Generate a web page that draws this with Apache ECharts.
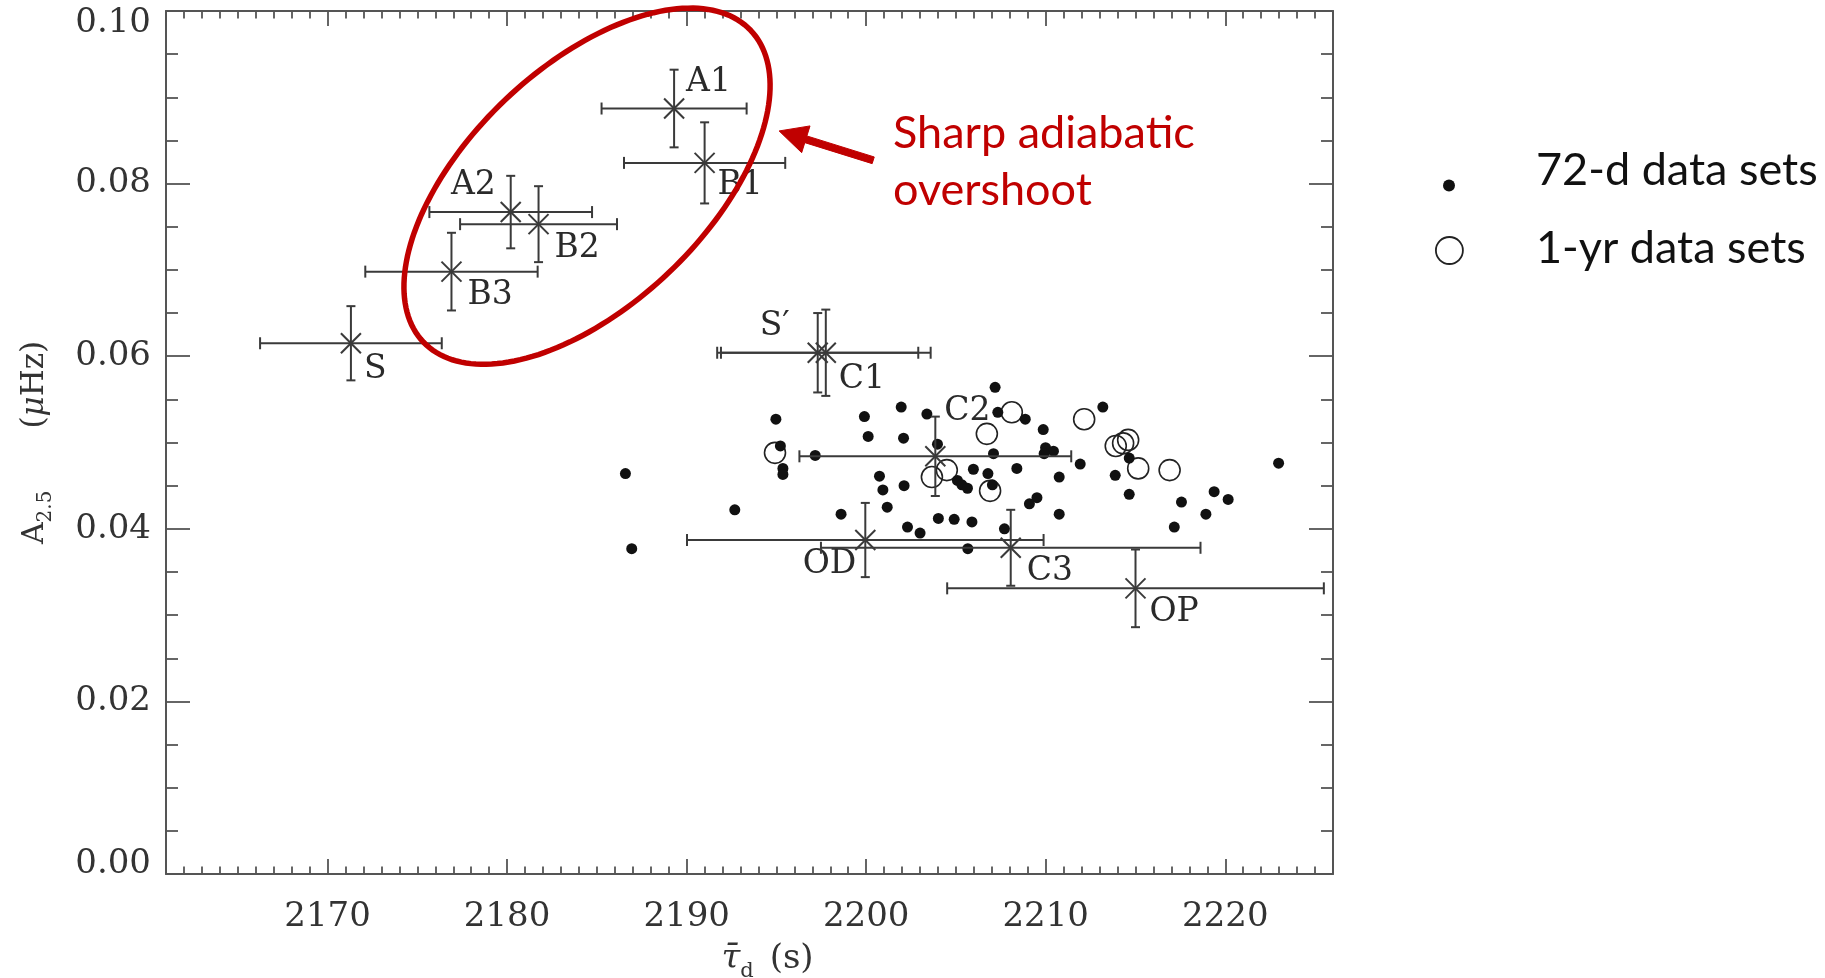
<!DOCTYPE html>
<html>
<head>
<meta charset="utf-8">
<script src="https://cdn.jsdelivr.net/npm/echarts@6/dist/echarts.min.js"></script>
<style>
  html, body { margin: 0; padding: 0; background: #ffffff; }
  #chart { width: 1825px; height: 978px; }
</style>
</head>
<body>
<div id="chart"></div>
<script>
// ---- Labelled determinations with error bars ----
const pointNames  = ['S', 'B3', 'A2', 'B2', 'A1', 'B1', 'S\u2032', 'C1', 'C2', 'OD', 'C3', 'OP'];
const pointTau    = [2171.3, 2176.9, 2180.2, 2181.75, 2189.3, 2191.0, 2197.3, 2197.75, 2203.85, 2199.95, 2208.05, 2215.0];
const pointAmp    = [0.0615, 0.0698, 0.0767, 0.0753, 0.0887, 0.0824, 0.0604, 0.0604, 0.0484, 0.0387, 0.0378, 0.0331];
const pointTauErr = [5.06, 4.8, 4.53, 4.37, 4.04, 4.49, 5.6, 5.84, 7.57, 9.93, 10.57, 10.49];
const pointAmpErr = [0.0043, 0.0045, 0.0042, 0.0044, 0.0045, 0.0047, 0.0046, 0.0050, 0.0046, 0.0043, 0.0044, 0.0045];

// ---- 72-d data sets (filled dots) ----
const tau72d = [2194.97, 2195.22, 2195.36, 2195.36, 2186.59, 2197.16, 2199.90, 2201.95, 2203.38, 2200.11,
                2202.08, 2203.97, 2200.74, 2200.93, 2202.11, 2201.17, 2192.68, 2198.60, 2186.94, 2202.30,
                2203.00, 2204.02, 2204.90, 2207.18, 2207.33, 2208.86, 2209.86, 2213.18, 2207.09, 2209.99,
                2210.43, 2209.91, 2211.92, 2205.97, 2206.78, 2208.39, 2210.75, 2205.08, 2205.33, 2205.64,
                2207.03, 2213.87, 2214.65, 2214.65, 2209.51, 2209.09, 2210.75, 2217.56, 2219.38, 2220.16,
                2218.92, 2217.16, 2222.97, 2205.89, 2207.70, 2205.66];
const amp72d = [0.0527, 0.0496, 0.0470, 0.0463, 0.0464, 0.0485, 0.0530, 0.0541, 0.0533, 0.0507,
                0.0505, 0.0498, 0.0461, 0.0445, 0.0450, 0.0425, 0.0422, 0.0417, 0.0377, 0.0402,
                0.0395, 0.0412, 0.0411, 0.0564, 0.0535, 0.0527, 0.0515, 0.0541, 0.0487, 0.0494,
                0.0490, 0.0487, 0.0475, 0.0469, 0.0464, 0.0470, 0.0460, 0.0456, 0.0451, 0.0447,
                0.0451, 0.0462, 0.0482, 0.0440, 0.0436, 0.0429, 0.0417, 0.0431, 0.0443, 0.0434,
                0.0417, 0.0402, 0.0476, 0.0408, 0.0400, 0.0377];

// ---- 1-yr data sets (open circles) ----
const tau1yr = [2194.92, 2203.66, 2204.49, 2206.72, 2206.90, 2208.11, 2212.14, 2213.90, 2214.31, 2214.59, 2215.15, 2216.90];
const amp1yr = [0.0488, 0.0460, 0.0468, 0.0510, 0.0444, 0.0535, 0.0527, 0.0496, 0.0499, 0.0503, 0.0470, 0.0468];

// ---- Axis extents ----
const tauRange = [2161, 2226];
const ampRange = [0, 0.10];

// ---- Annotation anchors (data coordinates) ----
const ellipseCenter = [2184.45, 0.0797];
const arrowTail = [2200.39, 0.0827];
const arrowTip  = [2195.15, 0.0861];

// ---- Styling ----
const SERIF = '"DejaVu Serif", "Liberation Serif", serif';
const SANS = 'Lato, "Open Sans", sans-serif';
const INK = '#3a3a3a';
const AXIS = '#555555';
const RED = '#C00000';

// label offset from each centre: [dx, dy, align]
const labelPlace = {
  'S':  [13, 26, 'left'],
  'B3': [16, 24, 'left'],
  'A2': [-15, -27, 'right'],
  'B2': [16, 24, 'left'],
  'A1': [12, -26, 'left'],
  'B1': [13, 23, 'left'],
  'S\u2032': [-28, -26, 'right'],
  'C1': [13, 27, 'left'],
  'C2': [9, -45, 'left'],
  'OD': [-9, 24, 'right'],
  'C3': [16, 24, 'left'],
  'OP': [14, 24, 'left']
};

function renderErrorBar(params, api) {
  const i = params.dataIndex;
  const x = api.value(0), y = api.value(1), ex = api.value(2), ey = api.value(3);
  const c = api.coord([x, y]);
  const l = api.coord([x - ex, y]), r = api.coord([x + ex, y]);
  const t = api.coord([x, y + ey]), b = api.coord([x, y - ey]);
  const seg = (x1, y1, x2, y2) => ({
    type: 'line', shape: { x1, y1, x2, y2 }, style: { stroke: INK, lineWidth: 2 }
  });
  const k = 10;
  const place = labelPlace[pointNames[i]];
  return {
    type: 'group',
    children: [
      seg(l[0], l[1], r[0], r[1]),
      seg(l[0], l[1] - 6, l[0], l[1] + 6),
      seg(r[0], r[1] - 6, r[0], r[1] + 6),
      seg(t[0], t[1], b[0], b[1]),
      seg(t[0] - 4.5, t[1], t[0] + 4.5, t[1]),
      seg(b[0] - 4.5, b[1], b[0] + 4.5, b[1]),
      seg(c[0] - k, c[1] - k, c[0] + k, c[1] + k),
      seg(c[0] - k, c[1] + k, c[0] + k, c[1] - k),
      {
        type: 'text',
        x: c[0] + place[0], y: c[1] + place[1],
        style: {
          text: pointNames[i], fill: '#2a2a2a', fontSize: 33, fontFamily: SERIF,
          align: place[2], verticalAlign: 'middle'
        }
      }
    ]
  };
}

const tickStyle = { color: AXIS, width: 1.8 };

function tauAxis(position, showLabel) {
  return {
    type: 'value', position, min: tauRange[0], max: tauRange[1],
    minInterval: 10, maxInterval: 10,
    splitLine: { show: false },
    axisLine: { onZero: false, lineStyle: { color: AXIS, width: 2 } },
    axisTick: { inside: true, length: 15, lineStyle: tickStyle },
    minorTick: { show: true, splitNumber: 10, length: 7.5, lineStyle: tickStyle },
    axisLabel: {
      show: showLabel, margin: 26, fontSize: 34, fontFamily: SERIF, color: '#333',
      formatter: v => (Math.abs(v % 10) < 1e-9 ? String(v) : '')
    }
  };
}

// end labels of the amplitude axis sit inside the frame
function ampLabel(v) {
  const s = v.toFixed(2);
  if (Math.abs(v - ampRange[1]) < 1e-9) return '{hi|' + s + '}';
  if (Math.abs(v - ampRange[0]) < 1e-9) return '{lo|' + s + '}';
  return '{n|' + s + '}';
}

function ampAxis(position, showLabel) {
  const base = { fontSize: 34, fontFamily: SERIF, color: '#333' };
  return {
    type: 'value', position, min: ampRange[0], max: ampRange[1], interval: 0.02,
    splitLine: { show: false },
    axisLine: { onZero: false, lineStyle: { color: AXIS, width: 2 } },
    axisTick: { inside: true, length: 24, lineStyle: tickStyle },
    minorTick: { show: true, splitNumber: 4, length: 12, lineStyle: tickStyle },
    axisLabel: {
      show: showLabel, margin: 15, formatter: ampLabel,
      rich: {
        n: base,
        hi: Object.assign({ padding: [24, 0, 0, 0] }, base),
        lo: Object.assign({ padding: [0, 0, 20, 0] }, base)
      }
    }
  };
}

const xBottom = tauAxis('bottom', true);
Object.assign(xBottom, {
  name: '{lead| }{tau|\u03C4\u0304}{sub|d}{sp| }{p|(s)}',
  nameLocation: 'middle',
  nameGap: 62,
  nameTextStyle: {
    rich: {
      lead: { width: 36, fontSize: 12 },
      tau: { fontFamily: SERIF, fontStyle: 'italic', fontSize: 34, color: '#333', lineHeight: 46 },
      sub: { fontFamily: SERIF, fontSize: 21, color: '#333', lineHeight: 22, verticalAlign: 'bottom' },
      sp:  { width: 16, fontSize: 12 },
      p:   { fontFamily: SERIF, fontSize: 34, color: '#333', lineHeight: 46 }
    }
  }
});

const yLeft = ampAxis('left', true);
Object.assign(yLeft, {
  name: '{a|A}{sub|2.5}{sp| }{p|(}{mu|\u03BC}{p|Hz)}',
  nameLocation: 'middle',
  nameRotate: 90,
  nameGap: 110,
  nameTextStyle: {
    rich: {
      a:   { fontFamily: SERIF, fontSize: 30, color: '#333', lineHeight: 42 },
      sub: { fontFamily: SERIF, fontSize: 20, color: '#333', lineHeight: 21, verticalAlign: 'bottom' },
      sp:  { width: 62, fontSize: 12 },
      p:   { fontFamily: SERIF, fontSize: 31, color: '#333', lineHeight: 42 },
      mu:  { fontFamily: SERIF, fontStyle: 'italic', fontSize: 31, color: '#333', lineHeight: 42 }
    }
  }
});

const legendText = (gap, lift) => ({
  rich: {
    g: { width: gap, fontSize: 12 },
    t: { fontFamily: SANS, fontSize: 45, color: '#111', lineHeight: 50, padding: [0, 0, lift, 0] }
  }
});

const option = {
  backgroundColor: '#ffffff',
  animation: false,
  grid: { left: 166, right: 492, top: 11, bottom: 104, containLabel: false, outerBoundsMode: 'none' },
  xAxis: [xBottom, tauAxis('top', false)],
  yAxis: [yLeft, ampAxis('right', false)],
  legend: [
    {
      data: [{ name: '72-d data sets', icon: 'circle' }],
      left: 1443, top: 148, padding: 0, itemWidth: 12, itemHeight: 12, selectedMode: false,
      formatter: n => '{g| }{t|' + n + '}',
      textStyle: legendText(76, 30)
    },
    {
      data: [{ name: '1-yr data sets', icon: 'circle',
               itemStyle: { color: 'rgba(0,0,0,0)', borderColor: '#222', borderWidth: 1.8 } }],
      left: 1435, top: 226, padding: 0, itemWidth: 27, itemHeight: 27, selectedMode: false,
      formatter: n => '{g| }{t|' + n + '}',
      textStyle: legendText(68, 4)
    }
  ],
  series: [
    {
      name: '1-yr data sets', type: 'scatter', z: 2,
      symbol: 'circle', symbolSize: 21,
      itemStyle: { color: 'rgba(0,0,0,0)', borderColor: '#222', borderWidth: 1.6, opacity: 1 },
      data: tau1yr.map((v, i) => [v, amp1yr[i]])
    },
    {
      name: '72-d data sets', type: 'scatter', z: 3,
      symbol: 'circle', symbolSize: 11,
      itemStyle: { color: '#111', opacity: 1 },
      data: tau72d.map((v, i) => [v, amp72d[i]])
    },
    {
      name: 'determinations', type: 'custom', z: 4,
      renderItem: renderErrorBar,
      encode: { x: 0, y: 1 },
      data: pointTau.map((v, i) => [v, pointAmp[i], pointTauErr[i], pointAmpErr[i]])
    }
  ]
};

const chart = echarts.init(document.getElementById('chart'), null, { renderer: 'canvas' });
chart.setOption(option);

// ---- Red annotation: ellipse around the overshoot group, arrow and caption ----
const px = p => chart.convertToPixel({ xAxisIndex: 0, yAxisIndex: 0 }, p);

function ellipsePoints(c, a, b, deg) {
  const th = deg * Math.PI / 180, pts = [];
  for (let k = 0; k < 180; k++) {
    const t = 2 * Math.PI * k / 180;
    const u = a * Math.cos(t), w = b * Math.sin(t);
    pts.push([c[0] + u * Math.cos(th) - w * Math.sin(th), c[1] - (u * Math.sin(th) + w * Math.cos(th))]);
  }
  return pts;
}

function arrowPoints(tail, tip, shaft, headLen, headHalf) {
  const dx = tip[0] - tail[0], dy = tip[1] - tail[1];
  const len = Math.hypot(dx, dy), ux = dx / len, uy = dy / len;
  const nx = -uy, ny = ux;
  const bx = tip[0] - ux * headLen, by = tip[1] - uy * headLen;
  const h = shaft / 2;
  return [
    [tail[0] + nx * h, tail[1] + ny * h], [bx + nx * h, by + ny * h], [bx + nx * headHalf, by + ny * headHalf],
    [tip[0], tip[1]],
    [bx - nx * headHalf, by - ny * headHalf], [bx - nx * h, by - ny * h], [tail[0] - nx * h, tail[1] - ny * h]
  ];
}

chart.setOption({
  graphic: [
    {
      type: 'polygon', z: 10,
      shape: { points: ellipsePoints(px(ellipseCenter), 226, 119, 43.6) },
      style: { fill: 'none', stroke: RED, lineWidth: 5.5 }
    },
    {
      type: 'polygon', z: 10,
      shape: { points: arrowPoints(px(arrowTail), px(arrowTip), 7, 28, 14) },
      style: { fill: RED, stroke: RED, lineWidth: 1 }
    },
    {
      type: 'text', z: 10, x: 893, y: 105,
      style: {
        text: 'Sharp adiabatic\novershoot', fill: RED,
        fontFamily: SANS, fontSize: 45, lineHeight: 57,
        align: 'left', verticalAlign: 'top'
      }
    }
  ]
});
</script>
</body>
</html>
